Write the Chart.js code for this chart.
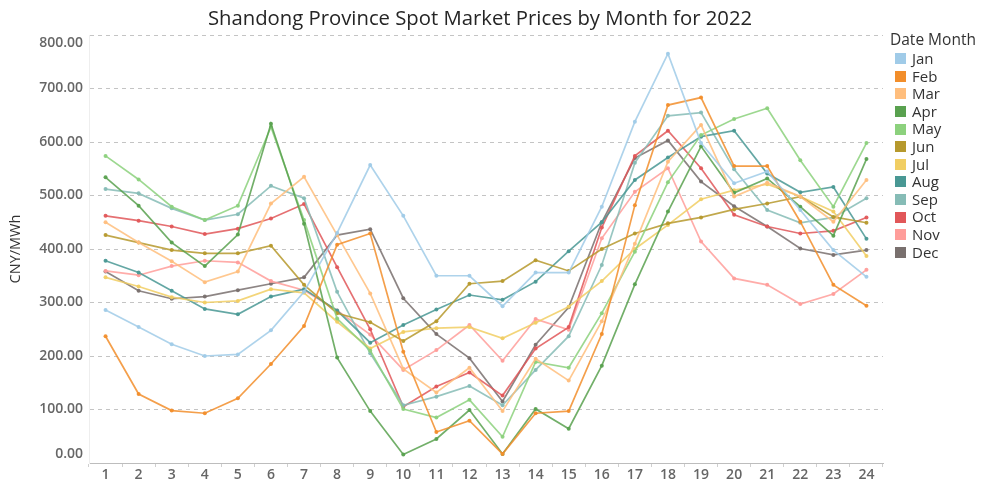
<!DOCTYPE html>
<html>
<head>
<meta charset="utf-8">
<script src="https://cdn.jsdelivr.net/npm/chart.js@4.4.1/dist/chart.umd.min.js"></script>
<style>
  html, body { margin: 0; padding: 0; background: #fff; }
  #wrap { position: relative; width: 1000px; height: 488px; overflow: hidden; font-family: "Open Sans", sans-serif; }
  #title { position: absolute; left: 0; width: 960px; top: 3px; text-align: center; font-size: 20.3px; color: #252525; }
  #legend { position: absolute; left: 890px; top: 29px; color: #333; }
  #legend .lt { margin-bottom: 1px; line-height: 20px; font-size: 15.5px; }
  #legend .it { height: 17.6px; line-height: 17.6px; display: flex; align-items: center; padding-left: 5px; font-size: 15px; }
  #legend .sw { width: 11px; height: 11px; margin-right: 6px; }
  canvas { position: absolute; left: 0; top: 0; }
</style>
</head>
<body>
<div id="wrap">
  <canvas id="c" width="1000" height="488"></canvas>
  <div id="title">Shandong Province Spot Market Prices by Month for 2022</div>
  <div id="legend"></div>
</div>
<script>
const hours = ["1","2","3","4","5","6","7","8","9","10","11","12","13","14","15","16","17","18","19","20","21","22","23","24"];
const monthNames = ["Jan","Feb","Mar","Apr","May","Jun","Jul","Aug","Sep","Oct","Nov","Dec"];
const monthColors = ["#a0cbe8","#f28e2b","#ffbe7d","#59a14f","#8cd17d","#b6992d","#f1ce63","#499894","#86bcb6","#e15759","#ff9d9a","#79706e"];
const yTicks = [0,100,200,300,400,500,600,700,800];

const jan = [286,254,222,200,203,248,320,430,557,462,350,350,293,356,356,479,638,765,598,523,545,473,398,348];
const feb = [237,129,98,93,121,185,256,408,429,208,58,79,17,93,97,241,482,669,683,555,555,451,333,294];
const mar = [450,412,377,338,358,485,535,426,317,176,132,178,97,195,154,265,410,563,632,498,524,498,451,529];
const apr = [534,481,412,368,427,634,447,197,97,16,45,99,17,101,64,182,334,470,592,505,532,479,425,568];
const may = [574,530,479,454,481,628,454,270,210,101,85,118,49,189,178,280,395,525,613,643,663,566,479,598];
const jun = [426,412,398,392,392,406,333,280,263,228,265,335,340,379,359,400,429,448,459,474,485,498,460,449];
const jul = [347,330,310,300,303,325,318,264,214,245,252,254,233,262,292,340,400,445,493,510,521,498,470,387];
const aug = [378,356,322,288,278,311,325,285,225,258,287,314,305,339,396,450,529,571,610,621,541,506,516,419];
const sep = [512,504,476,454,465,518,495,320,205,108,124,144,108,174,237,370,561,649,655,549,473,449,459,495];
const oct = [462,453,442,428,438,457,484,366,250,105,143,169,126,214,254,440,574,621,551,464,442,429,434,459];
const nov = [359,351,368,378,375,340,323,285,240,174,211,258,191,269,249,420,507,551,414,345,333,297,316,361];
const dec = [358,322,307,311,323,335,347,426,437,308,241,196,115,221,291,450,570,603,526,480,442,401,389,398];

const seriesValues = [jan,feb,mar,apr,may,jun,jul,aug,sep,oct,nov,dec];

function alpha(hex, a) {
  const r = parseInt(hex.slice(1,3),16), g = parseInt(hex.slice(3,5),16), b = parseInt(hex.slice(5,7),16);
  return `rgba(${r},${g},${b},${a})`;
}

const datasets = seriesValues.map((vals, i) => ({
  label: monthNames[i],
  data: vals,
  borderColor: alpha(monthColors[i], 0.85),
  backgroundColor: alpha(monthColors[i], 0.95),
  borderWidth: 1.7,
  pointRadius: 2,
  pointBorderWidth: 0,
  pointHoverRadius: 3,
  tension: 0,
  fill: false
}));

const lg = document.getElementById('legend');
lg.innerHTML = '<div class="lt">Date Month</div>' + monthNames.map((m, i) =>
  `<div class="it"><span class="sw" style="background:${monthColors[i]}"></span>${m}</div>`).join('');

const clampLabels = {
  id: 'clampLabels',
  afterDraw(chart) {
    const ys = chart.scales.y, ctx = chart.ctx, ca = chart.chartArea;
    ctx.save();
    ctx.font = '600 14px "Open Sans"';
    ctx.fillStyle = '#666';
    ctx.textAlign = 'right';
    ctx.textBaseline = 'middle';
    yTicks.forEach(v => {
      let p = ys.getPixelForValue(v);
      p = Math.min(Math.max(p, ca.top + 8), ca.bottom - 9);
      ctx.fillText(v.toFixed(2), ca.left - 6, p);
    });
    ctx.restore();
  }
};

new Chart(document.getElementById('c'), {
  type: 'line',
  data: { labels: hours, datasets },
  options: {
    responsive: false,
    animation: false,
    layout: { padding: { left: 7, right: 117, top: 35, bottom: 0 } },
    plugins: { legend: { display: false }, title: { display: false }, tooltip: { enabled: false } },
    scales: {
      x: {
        offset: true,
        grid: { display: true, drawOnChartArea: false, drawTicks: true, tickLength: 4, offset: true, color: '#cfcfcf' },
        border: { display: true, color: '#bdbdbd', width: 1 },
        ticks: { color: '#666', font: { family: 'Open Sans', size: 14, weight: '600' }, padding: 0, maxRotation: 0, autoSkip: false },
        afterFit(s) { s.height = 25; }
      },
      y: {
        min: 0, max: 800,
        afterBuildTicks(s) { s.ticks = yTicks.map(v => ({ value: v })); },
        grid: { color: '#c4c4c4', drawTicks: false },
        border: { display: true, dash: [4, 4], color: '#eeeeee' },
        ticks: { display: true, color: 'rgba(0,0,0,0)', font: { family: 'Open Sans', size: 14 }, padding: 6, callback: v => '' },
        title: { display: true, text: 'CNY/MWh', color: '#333', font: { family: 'Open Sans', size: 14.5 }, padding: 0 },
        afterFit(s) { s.width = 82; }
      }
    }
  },
  plugins: [clampLabels]
});
</script>
</body>
</html>
